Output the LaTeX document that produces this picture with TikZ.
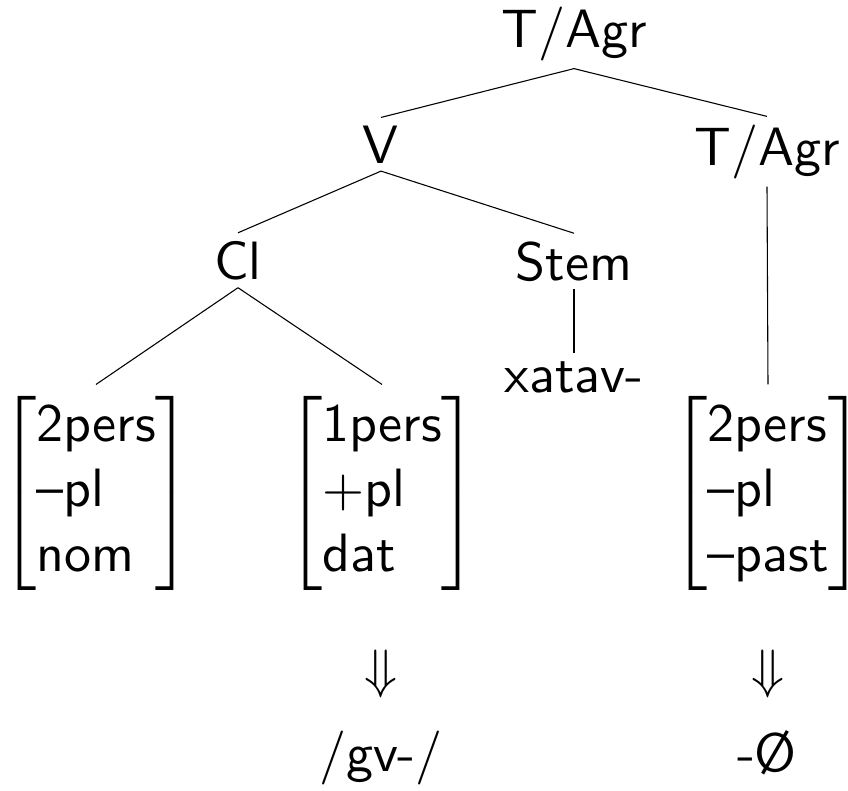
\documentclass[tikz,border=0pt]{standalone}
\begin{document}
\begin{tikzpicture}[x=0.1852pt,y=-0.1852pt,
  lbl/.style={font=\sffamily\fontsize{10}{12}\selectfont, inner sep=1.3pt, anchor=base},
  fs/.style={lbl, inner ysep=2.0pt},
  branch/.style={line width=0.2pt}]
\useasboundingbox (0,0) rectangle (848,790);
% tree labels
\node[lbl] (root)  at (574,47)  {T/Agr};
\node[lbl] (v)     at (381,163) {V};
\node[lbl] (tagr)  at (767,165) {T/Agr};
\node[lbl] (cl)    at (238,279) {Cl};
\node[lbl] (stem)  at (574,280) {Stem};
\node[lbl] (xatav) at (574,392) {xatav-};
% feature bundles
\node[fs] (m1) at (96,507)  {$\left[\begin{tabular}{@{}l@{}}2pers\\–pl\\nom\end{tabular}\right]$};
\node[fs] (m2) at (382,507) {$\left[\begin{tabular}{@{}l@{}}1pers\\$+$pl\\dat\end{tabular}\right]$};
\node[fs] (m3) at (768,507) {$\left[\begin{tabular}{@{}l@{}}2pers\\–pl\\–past\end{tabular}\right]$};
% spell-out
\node[lbl] (d1)   at (381,687) {$\Downarrow$};
\node[lbl] (d2)   at (768,687) {$\Downarrow$};
\node[lbl] (gv)   at (381,771) {/gv-/};
\node[lbl] (zero) at (767,771) {-Ø};
% branches
\draw[branch] (root.south) -- (v.north);
\draw[branch] (root.south) -- (tagr.north);
\draw[branch] (v.south) -- (cl.north);
\draw[branch] (v.south) -- (stem.north);
\draw[branch] (cl.south) -- (m1.north);
\draw[branch] (cl.south) -- (m2.north);
\draw[branch] (stem.south) -- (xatav.north);
\draw[branch] (tagr.south) -- (m3.north);
\end{tikzpicture}
\end{document}
